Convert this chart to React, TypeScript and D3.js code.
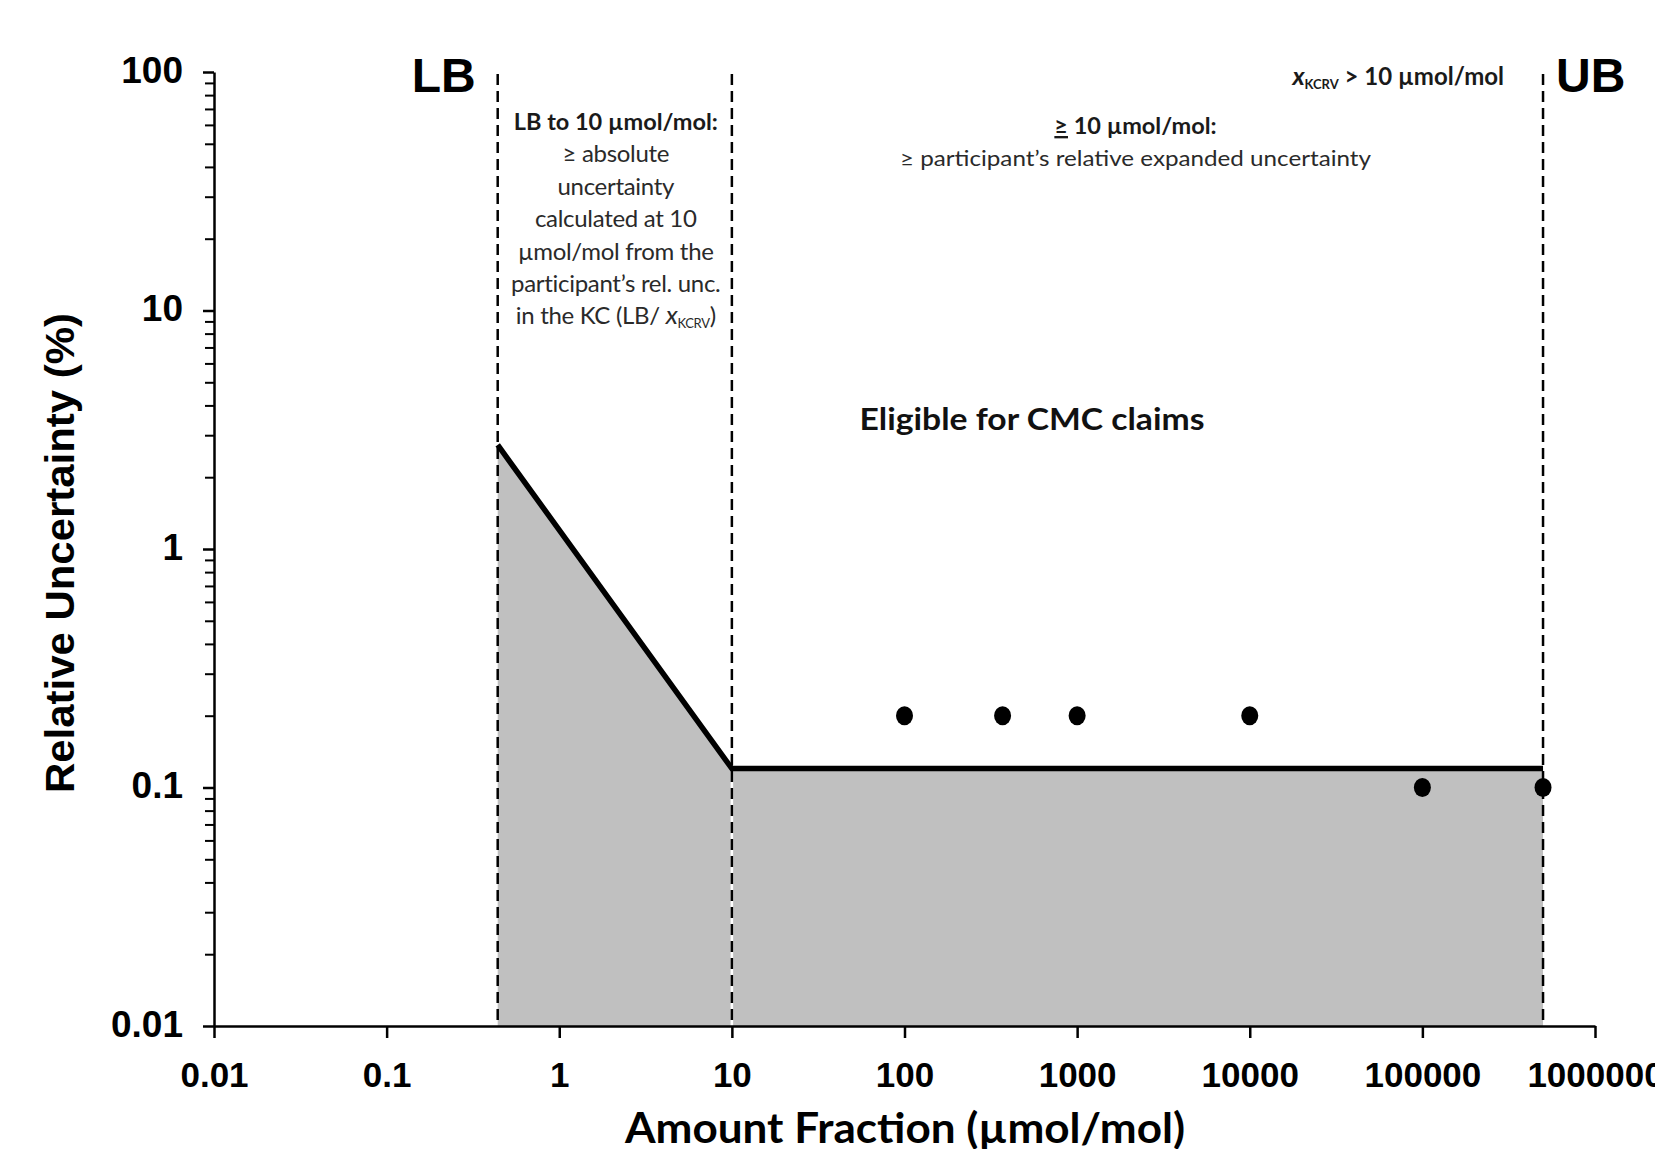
import * as d3 from "d3"
import React, { useEffect, useRef } from "react"

// boundaries: LB, 10 umol/mol, UB
const boundaryX = [0.44, 10, 500000]
const boundaryNames = ["LB", "", "UB"]

// minimum uncertainty curve
const limitX = [0.44, 10, 500000]
const limitY = [2.73, 0.12, 0.12]

// participant results
const pointX = [100, 370, 1000, 10000, 100000, 500000]
const pointY = [0.2, 0.2, 0.2, 0.2, 0.1, 0.1]

const xTicks = [0.01, 0.1, 1, 10, 100, 1000, 10000, 100000, 1000000]
const xTickLabels = ["0.01", "0.1", "1", "10", "100", "1000", "10000", "100000", "1000000"]
const yTicks = [0.01, 0.1, 1, 10, 100]
const yTickLabels = ["0.01", "0.1", "1", "10", "100"]

const leftBoxLines = [
    "≥ absolute",
    "uncertainty",
    "calculated at 10",
    "µmol/mol from the",
    "participant’s rel. unc.",
]

const W = 1655
const H = 1149
const ARIAL = "'Liberation Sans', Arial, sans-serif"
const CAL = "Lato, 'Open Sans', sans-serif"

const App = () => {
    const refSvg = useRef<SVGSVGElement>(null)

    useEffect(() => {
        const svg = d3.select(refSvg.current)
        svg.selectAll("*").remove()

        const x = d3.scaleLog().domain([0.01, 1000000]).range([214, 1595])
        const y = d3.scaleLog().domain([0.01, 100]).range([1026, 72])

        // Grey area under the limit line
        const area = d3.area<number>()
            .x((d, i) => x(limitX[i]))
            .y0(y(0.01))
            .y1((d, i) => y(limitY[i]))
        svg.append("path")
            .attr("d", area(limitY))
            .attr("fill", "#c0c0c0")

        // white backing of the 10 line inside the grey area
        svg.append("line")
            .attr("x1", x(boundaryX[1])).attr("x2", x(boundaryX[1]))
            .attr("y1", y(0.01)).attr("y2", y(limitY[1]))
            .attr("stroke", "#fff").attr("stroke-width", 2.5)

        // dashed boundaries
        svg.selectAll(".bound")
            .data(boundaryX)
            .join("line")
            .attr("class", "bound")
            .attr("x1", d => x(d)).attr("x2", d => x(d))
            .attr("y1", y(100) + 2).attr("y2", y(0.01))
            .attr("stroke", "#000")
            .attr("stroke-width", 2.5)
            .attr("stroke-dasharray", "11,6")

        // limit line
        const line = d3.line<number>()
            .x((d, i) => x(limitX[i]))
            .y(d => y(d))
        svg.append("path")
            .attr("d", line(limitY))
            .attr("fill", "none")
            .attr("stroke", "#000")
            .attr("stroke-width", 5.5)

        // points
        svg.selectAll(".pt")
            .data(pointX)
            .join("ellipse")
            .attr("class", "pt")
            .attr("cx", d => x(d))
            .attr("cy", (d, i) => y(pointY[i]))
            .attr("rx", 8.5).attr("ry", 9.5)
            .attr("fill", "#000")

        // X axis
        const gX = svg.append("g")
            .attr("transform", `translate(0, ${y(0.01)})`)
            .call(d3.axisBottom(x).tickValues(xTicks).tickFormat((d, i) => xTickLabels[i]).tickSize(12).tickSizeOuter(0))
        gX.select(".domain").attr("stroke-width", 2.5)
        gX.selectAll(".tick line").attr("stroke-width", 2.5)
        gX.selectAll(".tick text")
            .attr("y", 36)
            .attr("font-family", ARIAL)
            .attr("font-weight", "bold")
            .attr("font-size", 35)
            .attr("fill", "#000")

        // Y axis
        const minor: number[] = []
        for (let e = -2; e < 2; e++) {
            for (let k = 2; k <= 9; k++) minor.push(k * Math.pow(10, e))
        }
        const gYm = svg.append("g")
            .attr("transform", `translate(${x(0.01)}, 0)`)
            .call(d3.axisLeft(y).tickValues(minor).tickFormat(() => "").tickSize(9).tickSizeOuter(0))
        gYm.select(".domain").remove()
        gYm.selectAll(".tick line").attr("stroke-width", 2)

        const gY = svg.append("g")
            .attr("transform", `translate(${x(0.01)}, 0)`)
            .call(d3.axisLeft(y).tickValues(yTicks).tickFormat((d, i) => yTickLabels[i]).tickSize(11).tickSizeOuter(0))
        gY.select(".domain").attr("stroke-width", 2.5)
        gY.selectAll(".tick text")
            .attr("x", -31)
            .attr("dy", "0.28em")
            .attr("font-family", ARIAL)
            .attr("font-weight", "bold")
            .attr("font-size", 37)
            .attr("fill", "#000")
        gY.selectAll(".tick line").attr("stroke-width", 2.5)

        // Axis titles
        svg.append("text")
            .attr("transform", `translate(74, ${(y(0.01) + y(100)) / 2 + 4}) rotate(-90)`)
            .attr("text-anchor", "middle")
            .attr("font-family", ARIAL)
            .attr("font-weight", "bold")
            .attr("font-size", 40)
            .attr("textLength", 480)
            .attr("lengthAdjust", "spacingAndGlyphs")
            .text("Relative Uncertainty (%)")

        svg.append("text")
            .attr("x", 905).attr("y", 1143)
            .attr("text-anchor", "middle")
            .attr("font-family", CAL)
            .attr("font-weight", "bold")
            .attr("font-size", 42)
            .attr("textLength", 560)
            .attr("lengthAdjust", "spacingAndGlyphs")
            .text("Amount Fraction (µmol/mol)")

        // LB / UB labels
        svg.append("text")
            .attr("x", x(boundaryX[0]) - 22).attr("y", 92)
            .attr("text-anchor", "end")
            .attr("font-family", ARIAL).attr("font-weight", "bold").attr("font-size", 48)
            .text(boundaryNames[0])
        svg.append("text")
            .attr("x", x(boundaryX[2]) + 13).attr("y", 92)
            .attr("text-anchor", "start")
            .attr("font-family", ARIAL).attr("font-weight", "bold").attr("font-size", 48)
            .text(boundaryNames[2])

        // Left box annotation
        const cxL = (x(boundaryX[0]) + x(boundaryX[1])) / 2 + 1
        const t0 = 130
        const dyL = 32.4
        svg.append("text")
            .attr("x", cxL).attr("y", t0)
            .attr("text-anchor", "middle")
            .attr("font-family", CAL).attr("font-weight", "bold").attr("font-size", 23.5)
            .attr("fill", "#1a1a1a")
            .text("LB to 10 µmol/mol:")
        svg.selectAll(".lbl")
            .data(leftBoxLines)
            .join("text")
            .attr("class", "lbl")
            .attr("x", cxL)
            .attr("y", (d, i) => t0 + (i + 1) * dyL)
            .attr("text-anchor", "middle")
            .attr("font-family", CAL).attr("font-size", 24)
            .attr("letter-spacing", -0.3)
            .attr("fill", "#2a2a2a")
            .text(d => d)
        const last = svg.append("text")
            .attr("x", cxL).attr("y", t0 + 6 * dyL)
            .attr("text-anchor", "middle")
            .attr("font-family", CAL).attr("font-size", 24)
            .attr("letter-spacing", -0.3)
            .attr("fill", "#2a2a2a")
        last.append("tspan").text("in the KC (LB/ ")
        last.append("tspan").attr("font-style", "italic").attr("font-size", 26).text("x")
        last.append("tspan").attr("font-size", 13).attr("dy", 4).text("KCRV")
        last.append("tspan").attr("dy", -4).text(")")

        // Right box annotation
        const cxR = (x(boundaryX[1]) + x(boundaryX[2])) / 2 - 2
        const r1 = svg.append("text")
            .attr("x", cxR).attr("y", 134)
            .attr("text-anchor", "middle")
            .attr("font-family", CAL).attr("font-weight", "bold").attr("font-size", 23.5)
            .attr("fill", "#1a1a1a")
        r1.append("tspan").attr("text-decoration", "underline").text("≥")
        r1.append("tspan").text(" 10 µmol/mol:")
        svg.append("text")
            .attr("x", cxR).attr("y", 166)
            .attr("text-anchor", "middle")
            .attr("font-family", CAL).attr("font-size", 22)
            .attr("fill", "#2a2a2a")
            .attr("textLength", 471)
            .attr("lengthAdjust", "spacingAndGlyphs")
            .text("≥ participant’s relative expanded uncertainty")

        // KCRV condition
        const k = svg.append("text")
            .attr("x", 1504).attr("y", 85)
            .attr("text-anchor", "end")
            .attr("font-family", CAL).attr("font-weight", "bold").attr("font-size", 24)
            .attr("fill", "#1a1a1a")
        k.append("tspan").attr("font-style", "italic").attr("font-size", 25).text("x")
        k.append("tspan").attr("font-size", 13).attr("dy", 4).text("KCRV")
        k.append("tspan").attr("dy", -4).text(" > 10 µmol/mol")

        // Eligible label
        svg.append("text")
            .attr("x", 1032).attr("y", 430)
            .attr("text-anchor", "middle")
            .attr("font-family", CAL).attr("font-weight", "bold").attr("font-size", 31)
            .attr("fill", "#111")
            .attr("textLength", 345)
            .attr("lengthAdjust", "spacingAndGlyphs")
            .text("Eligible for CMC claims")
    }, [])

    return (
        <svg
            ref={refSvg}
            width={W}
            height={H}
            style={{ position: "absolute", left: 0, top: 0, background: "#fff" }}
        ></svg>
    )
}

export default App
